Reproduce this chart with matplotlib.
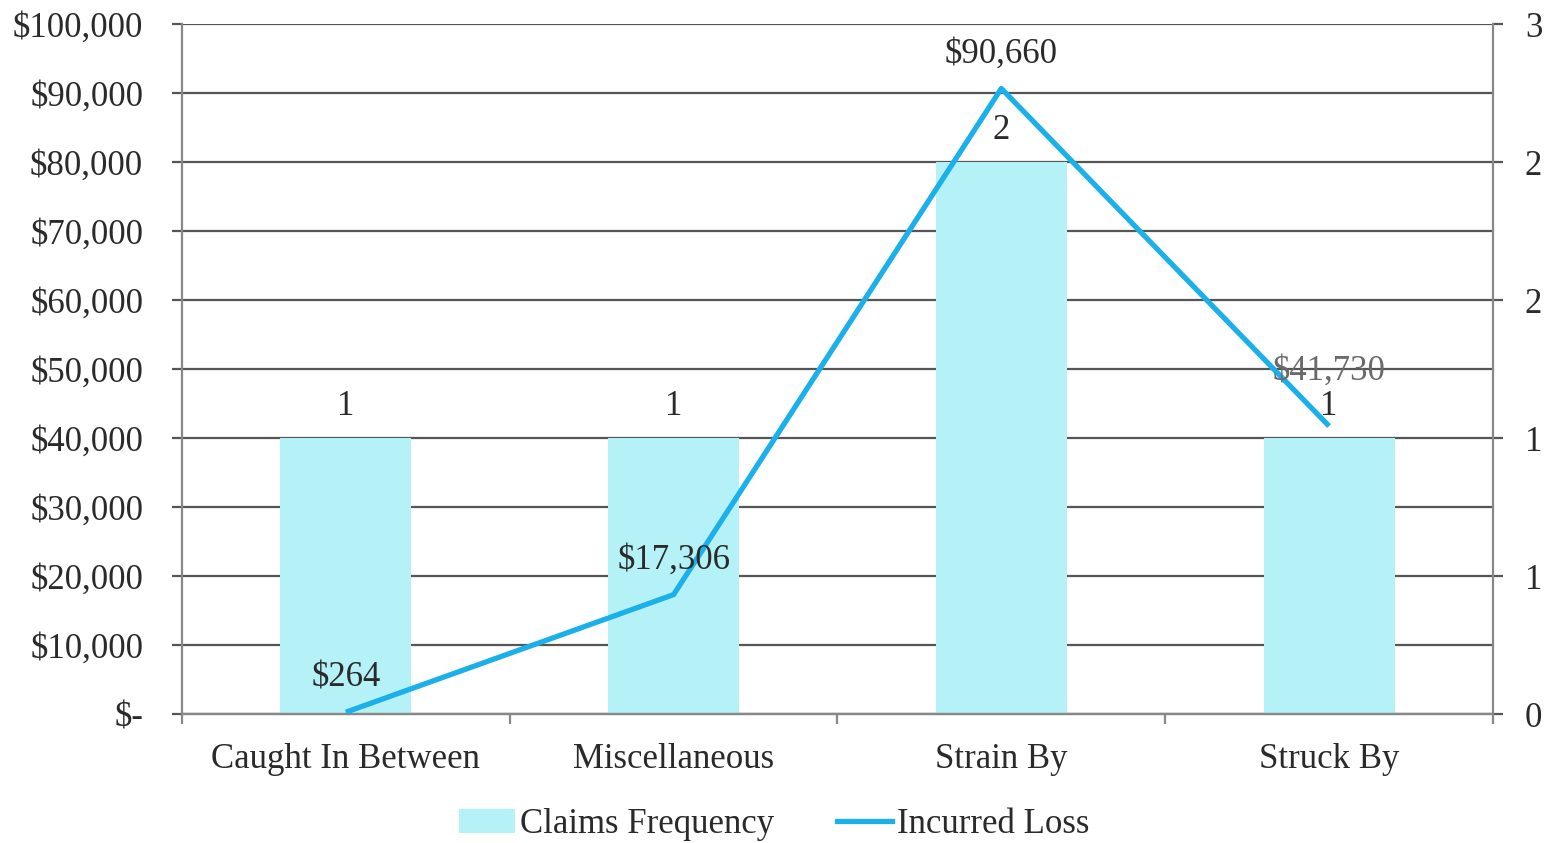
import math
import matplotlib
matplotlib.use("Agg")
import matplotlib.pyplot as plt
from matplotlib.ticker import FuncFormatter, FixedLocator, MultipleLocator
from matplotlib.lines import Line2D
from matplotlib.patches import Patch

categories = ["Caught In Between", "Miscellaneous", "Strain By", "Struck By"]
claims_frequency = [1, 1, 2, 1]
incurred_loss = [264, 17306, 90660, 41730]

BAR_C = "#b4f2f7"
LINE_C = "#1cb0ea"
GRID_C = "#555555"
TXT_C = "#2a2a2a"

plt.rcParams["font.family"] = ["Liberation Serif", "DejaVu Serif"]
FS = 25

fig = plt.figure(figsize=(15.49, 8.43), dpi=100)
ax2 = fig.add_axes([0.1175, 0.153, 0.8463, 0.8185])  # bars + grid (right axis)
ax = fig.add_axes([0.1175, 0.153, 0.8463, 0.8185], sharex=ax2)  # line (left axis)
ax.set_zorder(ax2.get_zorder() + 1)
ax.patch.set_visible(False)

x = list(range(len(categories)))

# bars on right axis
ax2.bar(x, claims_frequency, width=0.4, color=BAR_C, zorder=2)
ax2.set_ylim(0, 2.5)
ax2.set_yticks([0, 0.5, 1, 1.5, 2, 2.5])
ax2.yaxis.set_minor_locator(MultipleLocator(0.25))
ax2.yaxis.set_major_formatter(FuncFormatter(lambda v, p: f"{math.floor(v + 0.5)}"))
ax2.yaxis.tick_right()
ax2.grid(axis="y", which="both", color=GRID_C, lw=1.6, zorder=0)
ax2.set_axisbelow(True)
for xi, c in zip(x, claims_frequency):
    ax2.text(xi, c + 0.055, f"{c}", ha="center", va="bottom", fontsize=FS, color=TXT_C)

# line on left axis
ax.plot(x, incurred_loss, color=LINE_C, lw=3.8, solid_capstyle="butt", zorder=3)
ax.set_ylim(0, 100000)
ax.set_yticks(range(0, 100001, 10000))
ax.yaxis.set_major_formatter(FuncFormatter(lambda v, p: "$-" if v == 0 else f"${v:,.0f}"))
label_off = {3: 3000}
for xi, v in zip(x, incurred_loss):
    c = "#6a6a6a" if xi == 3 else TXT_C
    ax.text(xi, v + 2600 + label_off.get(xi, 0), f"${v:,}", ha="center", va="bottom",
            fontsize=FS, color=c)

ax.set_xlim(-0.5, len(categories) - 0.5)
ax.set_xticks(x)
ax.set_xticklabels(categories)
ax.xaxis.set_minor_locator(FixedLocator([i - 0.5 for i in range(len(categories) + 1)]))
ax.tick_params(axis="x", which="major", length=0, pad=21, labelsize=FS, labelcolor=TXT_C)
ax.tick_params(axis="x", which="minor", length=7, width=1.6, color="#888888")
ax.tick_params(axis="y", length=7, width=1.6, color=GRID_C, labelsize=FS, labelcolor=TXT_C, pad=21)
ax2.tick_params(axis="y", which="major", length=7, width=1.6, color=GRID_C, labelsize=FS,
                labelcolor=TXT_C, pad=16)
ax2.tick_params(axis="y", which="minor", length=0)
ax2.tick_params(axis="x", length=0, labelbottom=False)

for a in (ax, ax2):
    a.spines["top"].set_visible(False)
    for s in ("left", "right", "bottom"):
        a.spines[s].set_color("#888888")
        a.spines[s].set_linewidth(1.6)
ax.spines["right"].set_visible(False)
ax2.spines["left"].set_visible(False)

handles = [Patch(facecolor=BAR_C, edgecolor="none"),
           Line2D([0], [0], color=LINE_C, lw=3.8)]
fig.legend(handles, ["Claims Frequency", "Incurred Loss"], loc="lower center",
           bbox_to_anchor=(0.5, -0.035), ncol=2, frameon=False, fontsize=FS,
           handlelength=1.6, handletextpad=0.15, columnspacing=1.8, labelcolor=TXT_C)

fig.savefig("out.png", dpi=100)
